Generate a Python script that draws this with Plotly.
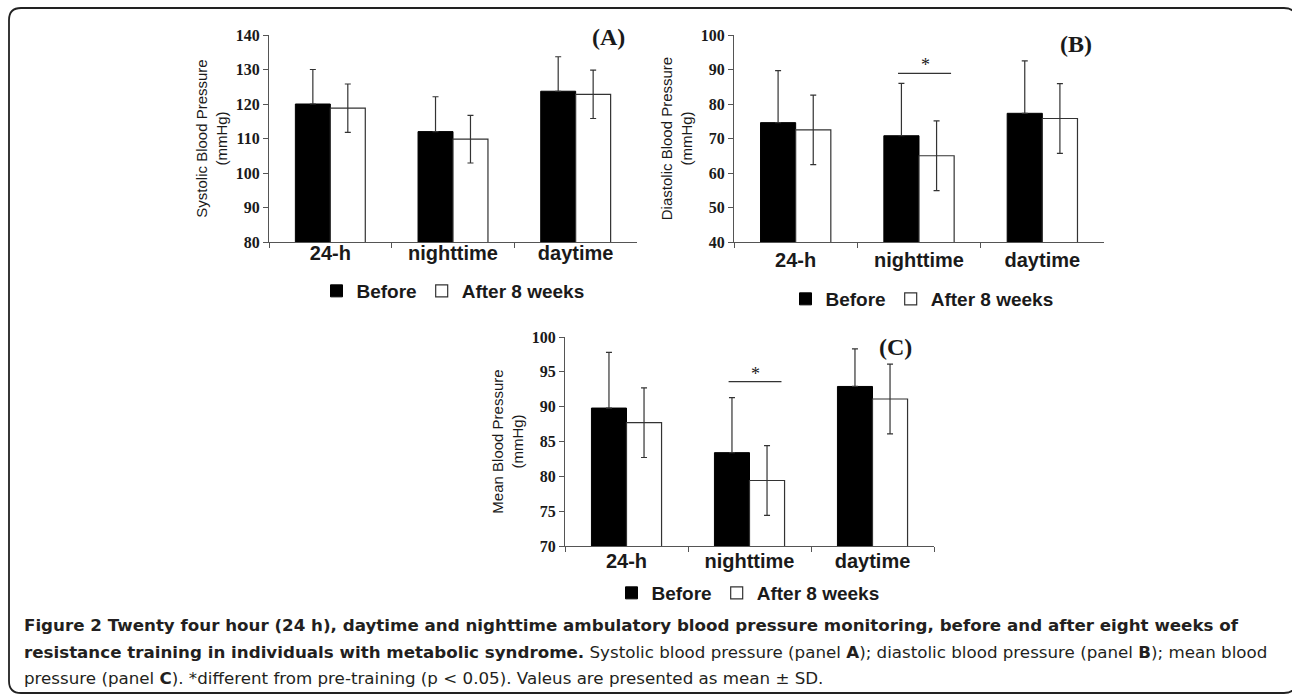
import plotly.graph_objects as go

# ---------------- data ----------------
categories = ["24-h", "nighttime", "daytime"]
series_names = ["Before", "After 8 weeks"]

sbp_before = [120.0, 112.0, 123.7]
sbp_before_sd = [10.0, 10.1, 10.0]
sbp_after = [118.8, 109.8, 122.8]
sbp_after_sd = [7.0, 6.9, 7.0]

dbp_before = [74.6, 70.8, 77.3]
dbp_before_sd = [15.1, 15.2, 15.2]
dbp_after = [72.5, 65.0, 75.8]
dbp_after_sd = [10.1, 10.1, 10.1]

map_before = [89.8, 83.4, 92.9]
map_before_sd = [8.0, 7.9, 5.4]
map_after = [87.7, 79.4, 91.1]
map_after_sd = [5.0, 5.0, 5.0]

panel_labels = ["(A)", "(B)", "(C)"]
y_titles = ["Systolic Blood Pressure<br>(mmHg)",
            "Diastolic Blood Pressure<br>(mmHg)",
            "Mean Blood Pressure<br>(mmHg)"]
y_ranges = [[80, 140], [40, 100], [70, 100]]
y_dticks = [10, 10, 5]

# significance markers: panel index, category, bracket level
sig_panels = [1, 2]
sig_category = "nighttime"
sig_levels = [88.9, 93.6]

caption_lines = [
    "<b>Figure 2 Twenty four hour (24 h), daytime and nighttime ambulatory blood pressure monitoring, before and after eight weeks of</b>",
    "<b>resistance training in individuals with metabolic syndrome.</b> Systolic blood pressure (panel <b>A</b>); diastolic blood pressure (panel <b>B</b>); mean blood",
    "pressure (panel <b>C</b>). *different from pre-training (p &lt; 0.05). Valeus are presented as mean ± SD.",
]

# ---------------- layout helpers ----------------
W, H = 1292, 700
def fx(p):
    return p / W
def fy(p):
    return 1 - p / H

# plot areas in pixels: (left, right, top, bottom)
areas = [(269, 637, 35, 242), (734, 1104, 35, 242), (565, 934, 337, 546)]
legend_pos = [(453, 291), (922, 299), (748, 593)]
label_pos = [(608, 37), (1076, 44), (895, 347)]
cat_standoff = [-7, 0, -3]

SERIF = "Liberation Serif, Times New Roman, serif"
SANS = "Liberation Sans, Arial, sans-serif"
CAPTION_FONT = "DejaVu Sans, Open Sans, sans-serif"
INK = "#1a1a1a"
AX = "#555555"

before_all = [(sbp_before, sbp_before_sd), (dbp_before, dbp_before_sd), (map_before, map_before_sd)]
after_all = [(sbp_after, sbp_after_sd), (dbp_after, dbp_after_sd), (map_after, map_after_sd)]

fig = go.Figure()
legend_ids = ["legend", "legend2", "legend3"]
for i in range(3):
    xa = "x" if i == 0 else f"x{i+1}"
    ya = "y" if i == 0 else f"y{i+1}"
    bv, bsd = before_all[i]
    av, asd = after_all[i]
    fig.add_trace(go.Bar(
        x=categories, y=bv, name=series_names[0], xaxis=xa, yaxis=ya,
        legend=legend_ids[i], showlegend=True, hoverinfo="skip",
        marker=dict(color="black", line=dict(color="black", width=1)),
        error_y=dict(type="data", symmetric=False, array=bsd, arrayminus=[0] * len(bsd),
                     color="#333333", thickness=1.2, width=3),
    ))
    fig.add_trace(go.Bar(
        x=categories, y=av, name=series_names[1], xaxis=xa, yaxis=ya,
        legend=legend_ids[i], showlegend=True, hoverinfo="skip",
        marker=dict(color="white", line=dict(color="#333333", width=1.2)),
        error_y=dict(type="data", symmetric=True, array=asd,
                     color="#333333", thickness=1.2, width=3),
    ))

layout = dict(
    width=W, height=H, margin=dict(l=0, r=0, t=0, b=0, autoexpand=False),
    paper_bgcolor="white", plot_bgcolor="white",
    barmode="group", bargap=0.43, bargroupgap=0.0,
    font=dict(family=SANS, color=INK),
)

for i in range(3):
    l, r, t, b = areas[i]
    xk = "xaxis" if i == 0 else f"xaxis{i+1}"
    yk = "yaxis" if i == 0 else f"yaxis{i+1}"
    ya = "y" if i == 0 else f"y{i+1}"
    xa = "x" if i == 0 else f"x{i+1}"
    layout[xk] = dict(
        domain=[fx(l), fx(r)], anchor=ya, type="category", range=[-0.5, 2.5],
        automargin=False, fixedrange=True,
        showline=True, linecolor=AX, linewidth=1.2, showgrid=False, zeroline=False,
        ticks="outside", tickson="boundaries", ticklen=5, tickcolor=AX,
        ticklabelstandoff=cat_standoff[i],
        tickfont=dict(family=SANS, size=20, color=INK, weight="bold"),
    )
    layout[yk] = dict(
        domain=[fy(b), fy(t)], anchor=xa, range=y_ranges[i], dtick=y_dticks[i],
        tick0=y_ranges[i][0], automargin=False, fixedrange=True,
        showline=True, linecolor=AX, linewidth=1.2, showgrid=False, zeroline=False,
        ticks="outside", ticklen=5, tickcolor=AX,
        tickfont=dict(family=SERIF, size=16, color=INK, weight="bold"),
        title=dict(text=y_titles[i], font=dict(family=SANS, size=15, color=INK), standoff=4),
    )
    lx, ly = legend_pos[i]
    layout[legend_ids[i]] = dict(
        orientation="h", x=fx(lx), y=fy(ly), xanchor="center", yanchor="middle",
        font=dict(family=SANS, size=19, color=INK, weight="bold"),
        bgcolor="rgba(0,0,0,0)", itemclick=False, itemdoubleclick=False,
    )

fig.update_layout(**layout)

# panel labels
for i in range(3):
    px_, py_ = label_pos[i]
    fig.add_annotation(
        xref="paper", yref="paper", x=fx(px_), y=fy(py_), text=f"<b>{panel_labels[i]}</b>",
        showarrow=False, xanchor="center", yanchor="middle",
        font=dict(family=SERIF, size=24, color=INK),
    )

# significance brackets
cat_idx = categories.index(sig_category)
for k, pi in enumerate(sig_panels):
    xa = f"x{pi+1}"
    ya = f"y{pi+1}"
    fig.add_shape(type="line", xref=xa, yref=ya,
                  x0=cat_idx - 0.17, x1=cat_idx + 0.26,
                  y0=sig_levels[k], y1=sig_levels[k],
                  line=dict(color="#333333", width=1.3))
    fig.add_annotation(xref=xa, yref=ya, x=cat_idx + 0.05, y=sig_levels[k],
                       text="*", showarrow=False, yanchor="bottom", yshift=-4,
                       font=dict(family=SERIF, size=18, color=INK))

# caption
cap_y = [625, 652, 678]
for j, line in enumerate(caption_lines):
    fig.add_annotation(
        xref="paper", yref="paper", x=fx(22), y=fy(cap_y[j]), text=line,
        showarrow=False, xanchor="left", yanchor="middle", align="left",
        font=dict(family=CAPTION_FONT, size=16.7, color="#231f20"),
    )

# rounded frame
x0, x1, y0, y1 = fx(9), fx(1296), fy(693), fy(8)
rx, ry = 12 / W, 12 / H
path = (f"M {x0+rx},{y1} L {x1-rx},{y1} Q {x1},{y1} {x1},{y1-ry} "
        f"L {x1},{y0+ry} Q {x1},{y0} {x1-rx},{y0} L {x0+rx},{y0} "
        f"Q {x0},{y0} {x0},{y0+ry} L {x0},{y1-ry} Q {x0},{y1} {x0+rx},{y1} Z")
fig.add_shape(type="path", xref="paper", yref="paper", path=path,
              line=dict(color="#222222", width=1.8), fillcolor="rgba(0,0,0,0)", layer="below")

fig.write_html("out.html", config={"displayModeBar": False, "staticPlot": False},
               post_script="document.body.style.margin='0';document.body.style.overflow='hidden';")
